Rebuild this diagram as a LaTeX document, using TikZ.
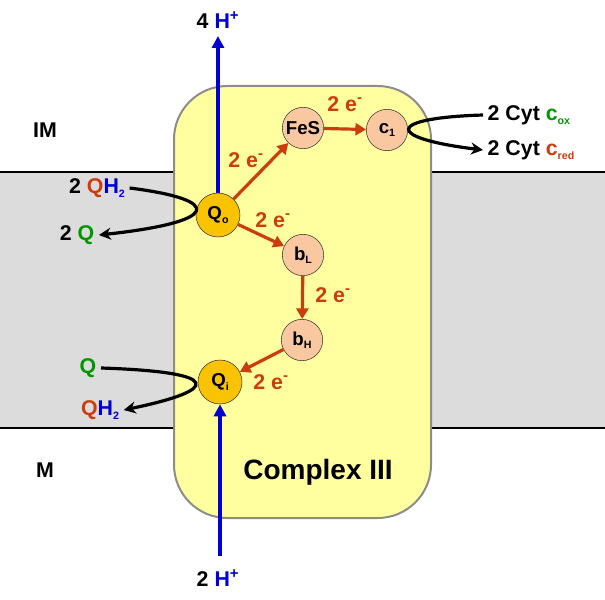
\documentclass[tikz,border=0pt]{standalone}
\usepackage{fontspec}
\setmainfont{Liberation Sans}
\usetikzlibrary{arrows.meta}
\definecolor{er}{RGB}{205,60,15}
\definecolor{gq}{RGB}{0,150,0}
\definecolor{bh}{RGB}{0,0,210}
\definecolor{yl}{RGB}{255,255,160}
\definecolor{gr}{RGB}{220,220,220}
\definecolor{sal}{RGB}{250,200,160}
\definecolor{gold}{RGB}{250,195,0}
\newcommand{\sps}[1]{\textsuperscript{#1}}
\newcommand{\sbs}[1]{\raisebox{-0.35ex}{\footnotesize #1}}
\begin{document}
\begin{tikzpicture}[x=0.75pt,y=-0.75pt,font=\bfseries,
 txt/.style={font=\fontsize{16}{18}\selectfont\bfseries},
 cof/.style={circle,draw=black!80,fill=sal,minimum size=31pt,inner sep=0pt,font=\fontsize{14}{16}\selectfont\bfseries},
 qs/.style={cof,fill=gold,minimum size=33pt},
 ea/.style={draw=er,line width=2.4pt,-{Triangle[length=8pt,width=9pt]}},
 el/.style={txt,text=er},
 ha/.style={draw=bh,line width=2.4pt,-{Triangle[length=9pt,width=9pt]}},
 bk/.style={draw=black,line width=2.4pt,-{Stealth[length=9pt,width=9pt]}}]
\useasboundingbox (0,0) rectangle (605,599);
\fill[gr] (0,172) rectangle (605,428);
\draw[line width=1.5pt] (0,172) -- (605,172) (0,428) -- (605,428);
\draw[fill=yl,draw=black!45,line width=1.5pt,rounded corners=40pt] (174,86) rectangle (431,518);
\node[cof] (fes) at (303,128) {FeS};
\node[cof] (c1) at (387,130) {c\sbs{1}};
\node[cof] (bl) at (303,255) {b\sbs{L}};
\node[cof] (bhh) at (302,340) {b\sbs{H}};
\node[qs] (qo) at (218,215) {Q\sbs{o}};
\node[qs] (qi) at (220,382) {Q\sbs{i}};
\draw[ea] (qo) -- (fes);
\draw[ea] (fes) -- (c1);
\draw[ea] (qo) -- (bl);
\draw[ea] (bl) -- (bhh);
\draw[ea] (bhh) -- (qi);
\node[el] (e1) at (246,160) {2 e\sps{-}};
\node[el] (e2) at (345,104) {2 e\sps{-}};
\node[el] (e3) at (273,220) {2 e\sps{-}};
\node[el] (e4) at (333,295) {2 e\sps{-}};
\node[el] (e5) at (271,382) {2 e\sps{-}};
\node[txt] (h4) at (218,20) {4 \textcolor{bh}{H\sps{+}}};
\node[txt] (h2) at (218,578) {2 \textcolor{bh}{H\sps{+}}};
\node[font=\fontsize{21}{24}\selectfont\bfseries] (cx) at (318,472) {Complex III};
\coordinate (top) at (218,36);
\coordinate (bot) at (220,556);
\draw[ha] (qo) -- (top);
\draw[ha] (bot) -- (qi);
\node[txt] (im) at (45,130) {IM};
\node[txt] (m) at (45,470) {M};
\node[txt] (qh2a) at (97,188) {2 \textcolor{er}{Q}\textcolor{bh}{H\sbs{2}}};
\node[txt] (qa) at (77,235) {2 \textcolor{gq}{Q}};
\node[txt,text=gq] (qb) at (88,368) {Q};
\node[txt] (qh2b) at (100,410) {\textcolor{er}{Q}\textcolor{bh}{H\sbs{2}}};
\node[txt,anchor=west] (cox) at (483,115) {2 Cyt \textcolor{gq}{c\sbs{ox}}};
\node[txt,anchor=west] (cred) at (483,150) {2 Cyt \textcolor{er}{c\sbs{red}}};
\draw[bk] (qh2a.east) .. controls (225,200) and (220,222) .. (qa.east);
\draw[bk] (qb.east) .. controls (225,372) and (220,390) .. (qh2b.east);
\draw[bk] (cox.west) .. controls (385,118) and (385,138) .. (cred.west);
\end{tikzpicture}
\end{document}
